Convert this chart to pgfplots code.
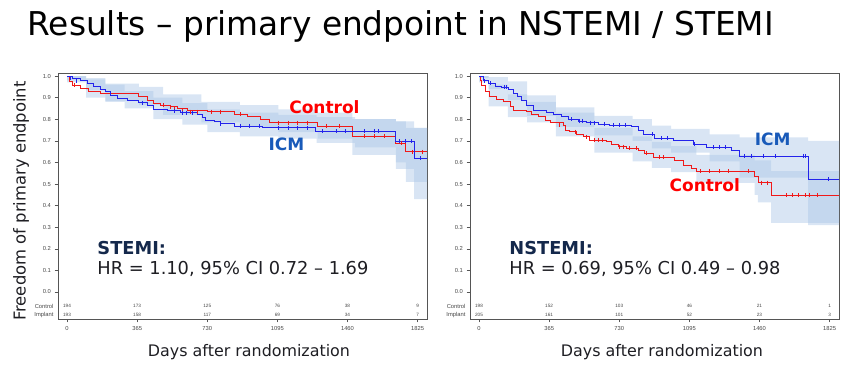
\documentclass[border=0pt]{standalone}
\usepackage{fontspec}
\setmainfont{DejaVu Sans}
\newfontfamily\tickfont{Liberation Sans}
\usepackage{pgfplots}
\pgfplotsset{compat=1.18}
\definecolor{kmred}{RGB}{240,25,25}
\definecolor{kmblue}{RGB}{35,35,235}
\definecolor{band}{RGB}{170,198,230}
\definecolor{lblblue}{RGB}{25,90,185}
\definecolor{lblred}{RGB}{255,0,0}
\definecolor{navy}{RGB}{20,40,75}
\definecolor{txt}{RGB}{30,30,35}
\definecolor{framegray}{RGB}{85,85,85}
\definecolor{tickgray}{RGB}{70,70,70}

\pgfplotsset{kmaxis/.style={
  scale only axis, width=369pt, height=246pt,
  xmin=-47, xmax=1874, ymin=-0.125, ymax=1.014,
  xtick={0,365,730,1095,1460,1825},
  ytick={0,0.1,0.2,0.3,0.4,0.5,0.6,0.7,0.8,0.9,1.0},
  tick align=outside, major tick length=3.5pt,
  xtick pos=bottom, ytick pos=left,
  axis line style={framegray, line width=0.9pt},
  tick style={framegray, line width=0.6pt},
  ticklabel style={font=\tickfont\fontsize{5.8}{6}\selectfont, text=tickgray},
  /pgf/number format/assume math mode=true,
  yticklabel style={/pgf/number format/.cd, fixed, fixed zerofill, precision=1},
  xticklabel style={/pgf/number format/.cd, 1000 sep={}},
  every axis plot/.append style={line width=0.8pt},
}}
\tikzset{risk/.style={font=\tickfont\fontsize{4.7}{5}\selectfont, text=tickgray},
  lbl/.style={font=\bfseries\fontsize{17}{20}\selectfont}}
\pgfplotsset{
  redcens/.style={color=kmred, only marks, mark=|, mark size=2pt, mark options={solid, color=kmred, line width=0.7pt}},
  bluecens/.style={color=kmblue, only marks, mark=|, mark size=2pt, mark options={solid, color=kmblue, line width=0.7pt}}}

\begin{document}
\begin{tikzpicture}
\path (0pt,0pt) rectangle (864pt,385pt);

\node[anchor=base west, font=\fontsize{32.8}{38}\selectfont] at (24pt,349pt) {Results – primary endpoint in NSTEMI / STEMI};

% ---------------- STEMI ----------------
\begin{axis}[kmaxis, at={(58pt,66pt)}, anchor=south west]
% CI band ICM
\addplot[fill=band, fill opacity=0.45, draw=none] coordinates {
(0,1.0)(100,1.0)(100,0.99)(200,0.99)(200,0.96)(300,0.96)(300,0.93)(450,0.93)(450,0.90)(600,0.90)(600,0.875)(730,0.875)(730,0.845)(900,0.845)(900,0.83)(1100,0.83)(1100,0.82)(1300,0.82)(1300,0.81)(1500,0.81)(1500,0.80)(1712,0.80)(1712,0.79)(1807,0.79)(1807,0.76)(1874,0.76)
(1874,0.43)(1807,0.43)(1807,0.57)(1712,0.57)(1712,0.67)(1500,0.67)(1500,0.69)(1300,0.69)(1300,0.71)(1100,0.71)(1100,0.72)(900,0.72)(900,0.74)(730,0.74)(730,0.775)(600,0.775)(600,0.80)(450,0.80)(450,0.85)(300,0.85)(300,0.88)(200,0.88)(200,0.935)(100,0.935)(100,0.98)(0,0.98)};
% CI band Control
\addplot[fill=band, fill opacity=0.45, draw=none] coordinates {
(0,1.0)(100,1.0)(100,0.985)(200,0.985)(200,0.965)(374,0.965)(374,0.95)(500,0.95)(500,0.915)(700,0.915)(700,0.88)(900,0.88)(900,0.865)(1100,0.865)(1100,0.845)(1304,0.845)(1304,0.83)(1486,0.83)(1486,0.80)(1712,0.80)(1712,0.79)(1764,0.79)(1764,0.76)(1874,0.76)
(1874,0.51)(1764,0.51)(1764,0.60)(1712,0.60)(1712,0.635)(1486,0.635)(1486,0.71)(1304,0.71)(1304,0.74)(1100,0.74)(1100,0.765)(900,0.765)(900,0.785)(700,0.785)(700,0.82)(500,0.82)(500,0.865)(374,0.865)(374,0.885)(200,0.885)(200,0.90)(100,0.90)(100,0.97)(0,0.97)};

% Control (red)
\addplot[kmred, const plot] coordinates {
(0,1.0) (10,0.975) (26,0.958) (69,0.943) (113,0.927) (174,0.920) (374,0.904) (417,0.889) (452,0.873) (487,0.866) (539,0.858) (574,0.850) (626,0.843) (730,0.835) (869,0.824) (939,0.815) (1008,0.799) (1051,0.784) (1304,0.769) (1486,0.722) (1712,0.688) (1764,0.650) (1874,0.650)};
% ICM (blue)
\addplot[kmblue, const plot] coordinates {
(0,1.0) (26,0.989) (69,0.978) (104,0.966) (139,0.951) (174,0.938) (200,0.927) (226,0.912) (261,0.897) (313,0.886) (374,0.877) (417,0.866) (452,0.846) (521,0.840) (591,0.830) (678,0.824) (704,0.809) (721,0.796) (765,0.789) (799,0.779) (869,0.769) (1017,0.760) (1295,0.744) (1712,0.698) (1807,0.620) (1874,0.620)};
% censoring marks
\addplot[redcens] coordinates {
(40,0.958) (500,0.866) (540,0.858) (560,0.850) (600,0.843) (640,0.835) (680,0.835) (750,0.835) (800,0.835) (900,0.824) (1100,0.784) (1150,0.784) (1200,0.784) (1250,0.784) (1350,0.769) (1420,0.769) (1550,0.722) (1600,0.722) (1650,0.722) (1740,0.688) (1800,0.650) (1850,0.650)};
\addplot[bluecens] coordinates {
(15,0.989) (50,0.978) (390,0.877) (560,0.840) (600,0.830) (620,0.830) (650,0.830) (800,0.779) (900,0.769) (950,0.769) (1000,0.769) (1100,0.760) (1150,0.760) (1200,0.760) (1250,0.760) (1330,0.744) (1400,0.744) (1450,0.744) (1550,0.744) (1600,0.744) (1620,0.744) (1730,0.698) (1760,0.698) (1790,0.698) (1840,0.620)};

\node[lbl, text=lblred] at (axis cs:1340,0.856) {Control};
\node[lbl, text=lblblue] at (axis cs:1142,0.685) {ICM};
\node[anchor=west, font=\bfseries\fontsize{17.8}{20}\selectfont, text=navy] at (axis cs:140,0.204) {STEMI:};
\node[anchor=west, font=\fontsize{17.8}{20}\selectfont, text=txt] at (axis cs:140,0.106) {HR = 1.10, 95\% CI 0.72 – 1.69};

\node[risk] at (axis cs:0,-0.065) {194};
\node[risk] at (axis cs:365,-0.065) {173};
\node[risk] at (axis cs:730,-0.065) {125};
\node[risk] at (axis cs:1095,-0.065) {76};
\node[risk] at (axis cs:1460,-0.065) {38};
\node[risk] at (axis cs:1825,-0.065) {9};
\node[risk] at (axis cs:0,-0.106) {193};
\node[risk] at (axis cs:365,-0.106) {158};
\node[risk] at (axis cs:730,-0.106) {117};
\node[risk] at (axis cs:1095,-0.106) {69};
\node[risk] at (axis cs:1460,-0.106) {34};
\node[risk] at (axis cs:1825,-0.106) {7};
\end{axis}

% ---------------- NSTEMI ----------------
\begin{axis}[kmaxis, at={(470pt,66pt)}, anchor=south west]
% CI band ICM
\addplot[fill=band, fill opacity=0.45, draw=none] coordinates {
(0,1.0)(50,1.0)(50,0.995)(150,0.995)(150,0.975)(250,0.975)(250,0.91)(400,0.91)(400,0.855)(600,0.855)(600,0.815)(800,0.815)(800,0.80)(900,0.80)(900,0.77)(1000,0.77)(1000,0.755)(1200,0.755)(1200,0.73)(1357,0.73)(1357,0.716)(1713,0.716)(1713,0.70)(1874,0.70)
(1874,0.31)(1713,0.31)(1713,0.53)(1357,0.53)(1357,0.605)(1200,0.605)(1200,0.645)(1000,0.645)(1000,0.665)(900,0.665)(900,0.70)(800,0.70)(800,0.725)(600,0.725)(600,0.765)(400,0.765)(400,0.815)(250,0.815)(250,0.89)(150,0.89)(150,0.94)(50,0.94)(50,0.99)(0,0.99)};
% CI band Control
\addplot[fill=band, fill opacity=0.45, draw=none] coordinates {
(0,1.0)(50,1.0)(50,0.96)(150,0.96)(150,0.915)(250,0.915)(250,0.88)(400,0.88)(400,0.83)(600,0.83)(600,0.76)(800,0.76)(800,0.72)(900,0.72)(900,0.695)(1000,0.695)(1000,0.675)(1131,0.675)(1131,0.635)(1435,0.635)(1435,0.61)(1521,0.61)(1521,0.56)(1874,0.56)
(1874,0.32)(1521,0.32)(1521,0.415)(1452,0.415)(1452,0.45)(1435,0.45)(1435,0.505)(1131,0.505)(1131,0.555)(1000,0.555)(1000,0.575)(900,0.575)(900,0.605)(800,0.605)(800,0.645)(600,0.645)(600,0.72)(400,0.72)(400,0.785)(250,0.785)(250,0.81)(150,0.81)(150,0.86)(50,0.86)(50,0.97)(0,0.97)};

% Control (red)
\addplot[kmred, const plot] coordinates {
(0,1.0) (5,0.981) (14,0.958) (31,0.927) (54,0.907) (92,0.892) (126,0.881) (161,0.858) (178,0.843) (248,0.835) (274,0.824) (309,0.812) (343,0.796) (369,0.784) (438,0.773) (452,0.750) (473,0.742) (508,0.731) (542,0.719) (577,0.704) (664,0.696) (690,0.685) (724,0.673) (768,0.665) (828,0.657) (863,0.642) (906,0.623) (1019,0.611) (1062,0.588) (1105,0.573) (1131,0.560) (1435,0.534) (1452,0.506) (1521,0.449) (1874,0.449)};
% ICM (blue)
\addplot[kmblue, const plot] coordinates {
(0,1.0) (22,0.978) (48,0.966) (83,0.954) (118,0.948) (152,0.938) (178,0.920) (199,0.904) (222,0.886) (248,0.866) (283,0.843) (352,0.830) (386,0.823) (430,0.812) (464,0.799) (516,0.792) (560,0.784) (620,0.778) (681,0.772) (794,0.765) (828,0.750) (854,0.731) (915,0.711) (1010,0.701) (1115,0.685) (1184,0.670) (1314,0.654) (1357,0.630) (1713,0.523) (1874,0.523)};
% censoring marks
\addplot[redcens] coordinates {
(420,0.773) (500,0.742) (560,0.719) (600,0.704) (620,0.704) (640,0.704) (730,0.673) (750,0.673) (780,0.665) (820,0.665) (870,0.642) (940,0.623) (960,0.623) (1150,0.560) (1200,0.560) (1250,0.560) (1300,0.560) (1400,0.560) (1470,0.506) (1500,0.506) (1600,0.449) (1630,0.449) (1660,0.449) (1700,0.449) (1720,0.449) (1760,0.449)};
\addplot[bluecens] coordinates {
(30,0.978) (60,0.966) (130,0.948) (140,0.948) (480,0.799) (520,0.792) (540,0.792) (580,0.784) (600,0.784) (650,0.778) (700,0.772) (730,0.772) (760,0.772) (900,0.731) (950,0.711) (980,0.711) (1120,0.685) (1220,0.670) (1250,0.670) (1280,0.670) (1380,0.630) (1420,0.630) (1480,0.630) (1540,0.630) (1690,0.630) (1700,0.630) (1820,0.523)};

\node[lbl, text=lblblue] at (axis cs:1529,0.708) {ICM};
\node[lbl, text=lblred] at (axis cs:1175,0.495) {Control};
\node[anchor=west, font=\bfseries\fontsize{17.8}{20}\selectfont, text=navy] at (axis cs:140,0.204) {NSTEMI:};
\node[anchor=west, font=\fontsize{17.8}{20}\selectfont, text=txt] at (axis cs:140,0.106) {HR = 0.69, 95\% CI 0.49 – 0.98};

\node[risk] at (axis cs:0,-0.065) {198};
\node[risk] at (axis cs:365,-0.065) {152};
\node[risk] at (axis cs:730,-0.065) {103};
\node[risk] at (axis cs:1095,-0.065) {46};
\node[risk] at (axis cs:1460,-0.065) {21};
\node[risk] at (axis cs:1825,-0.065) {1};
\node[risk] at (axis cs:0,-0.106) {205};
\node[risk] at (axis cs:365,-0.106) {161};
\node[risk] at (axis cs:730,-0.106) {101};
\node[risk] at (axis cs:1095,-0.106) {52};
\node[risk] at (axis cs:1460,-0.106) {23};
\node[risk] at (axis cs:1825,-0.106) {3};
\end{axis}

% risk table row labels
\node[anchor=east, font=\tickfont\fontsize{5.8}{6}\selectfont, text=tickgray] at (57pt,79pt) {Control};
\node[anchor=east, font=\tickfont\fontsize{5.8}{6}\selectfont, text=tickgray] at (57pt,70pt) {Implant};
\node[anchor=east, font=\tickfont\fontsize{5.8}{6}\selectfont, text=tickgray] at (469pt,79pt) {Control};
\node[anchor=east, font=\tickfont\fontsize{5.8}{6}\selectfont, text=tickgray] at (469pt,70pt) {Implant};

% axis titles
\node[rotate=90, font=\fontsize{16.4}{19}\selectfont, text=txt] at (21pt,184pt) {Freedom of primary endpoint};
\node[font=\fontsize{15.9}{18}\selectfont, text=txt] at (249pt,33pt) {Days after randomization};
\node[font=\fontsize{15.9}{18}\selectfont, text=txt] at (662pt,33pt) {Days after randomization};
\end{tikzpicture}
\end{document}
